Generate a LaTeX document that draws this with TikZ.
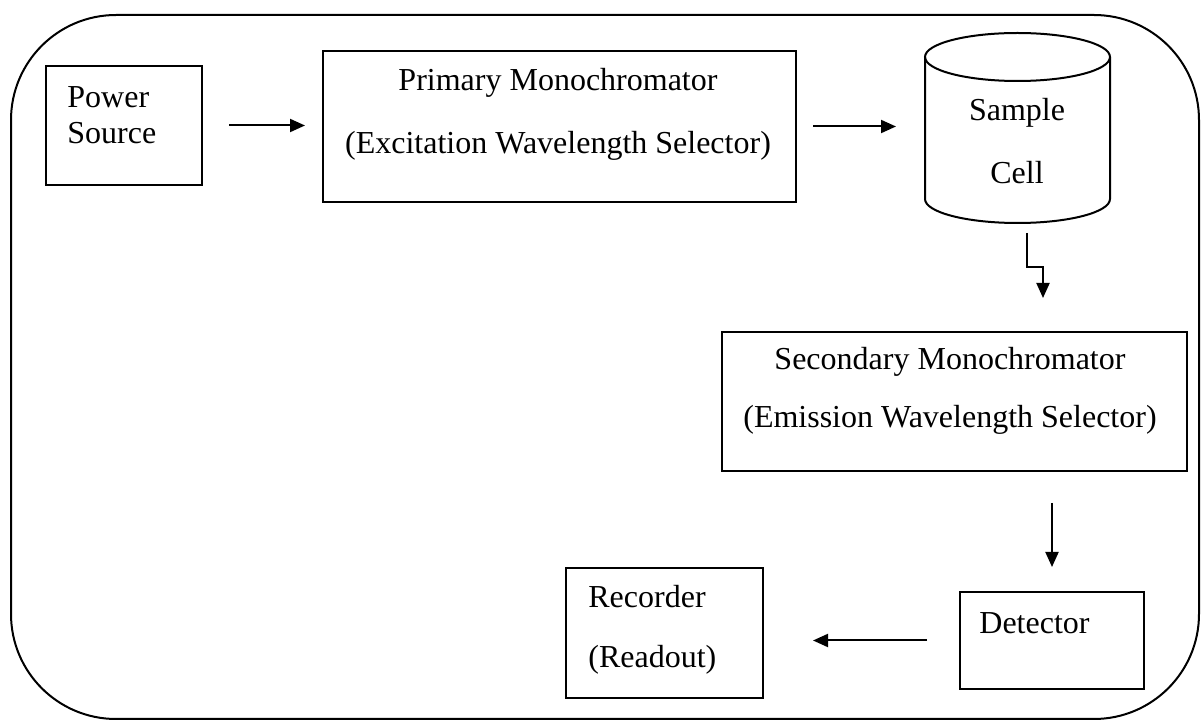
\documentclass[tikz,border=0pt]{standalone}
\usepackage{fontspec}
\setmainfont{Liberation Serif}
\usetikzlibrary{arrows.meta}

\begin{document}
\begin{tikzpicture}[x=0.5pt,y=-0.5pt,
		box/.style={draw, line width=1pt, inner sep=0pt, outer sep=0pt},
		txt/.style={inner sep=0pt, font=\fontsize{16}{18}\selectfont},
		arr/.style={line width=1pt, -{Triangle[length=7.5pt,width=6.5pt]}}]
		
		\useasboundingbox (0,0) rectangle (1201,721);
		
		% outer frame
		\draw[line width=1pt, rounded corners=52.5pt] (11,15) rectangle (1199,719);
		
		% boxes: name / centre x / centre y / width / height
		\foreach \n/\x/\y/\w/\h in {pw/124/125.5/78/59.5, prim/559.5/126.5/236.5/75.5,
			sec/954.5/401.5/232.5/69.5, det/1052/640.5/92/48.5, rec/664.5/633/98.5/65} {
			\node[box, minimum width=\w pt, minimum height=\h pt] (\n) at (\x,\y) {};
		}
		
		% sample cell (cylinder)
		\node[inner sep=0pt, outer sep=0pt, minimum width=92.5pt, minimum height=71pt] (cell) at (1017.5,128) {};
		\draw[line width=1pt] (cell.north west) -- (cell.south west)
			arc[start angle=180, end angle=360, x radius=46.25pt, y radius=12pt] -- (cell.north east);
		\draw[line width=1pt] (cell.north) ellipse [x radius=46.25pt, y radius=12pt];
		
		% labels
		\node[txt, align=left, anchor=west] (pwtxt) at (67,115) {Power\\Source};
		\node[txt, align=center] (primtxt) at (558,114.5) {Primary Monochromator\\[13.5pt](Excitation Wavelength Selector)};
		\node[txt, align=center] (celltxt) at (1017,141.5) {Sample\\[13.5pt]Cell};
		\node[txt, align=center] (sectxt) at (950,391) {Secondary Monochromator\\[11pt](Emission Wavelength Selector)};
		\node[txt, anchor=west] (dettxt) at (979,623) {Detector};
		\node[txt, align=left, anchor=west] (rectxt) at (588,630) {Recorder\\[12pt](Readout)};
		
		% signal path
		\draw[arr, shorten <=13.5pt, shorten >=9pt] (pw.east) -- (pw.east -| prim.west);
		\draw[arr, shorten <=8.5pt, shorten >=14.5pt] (prim.east) -- (prim.east -| cell.west);
		\draw[arr] ([xshift=4.75pt, yshift=-17pt]cell.south) -- ++(0,34) -- ++(16,0) -- ++(0,31);
		\draw[arr, shorten <=16pt, shorten >=12.5pt] (sec.south -| det.north) -- (det.north);
		\draw[arr, shorten <=16.5pt, shorten >=25pt] (det.west) -- (det.west -| rec.east);
		
	\end{tikzpicture}
\end{document}
